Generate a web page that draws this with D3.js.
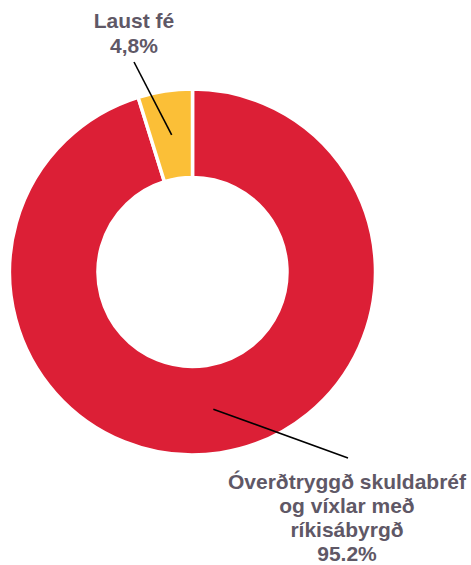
<!DOCTYPE html>
<html>
<head>
<meta charset="utf-8">
<script src="https://cdn.jsdelivr.net/npm/d3@7"></script>
<style>
  body { margin: 0; background: #fff; }
  svg { display: block; }
</style>
</head>
<body>
<div id="chart"></div>
<script>
// data
const categories = ["Óverðtryggð skuldabréf og víxlar með ríkisábyrgð", "Laust fé"];
const values = [95.2, 4.8];
const labelLines = [
  ["Óverðtryggð skuldabréf", "og víxlar með", "ríkisábyrgð", "95.2%"],
  ["Laust fé", "4,8%"]
];
const colors = ["#dc1f36", "#fbbf37"];

class Donut {
  constructor(config) {
    this.config = config;
    this.svg = d3.select(config.div).append("svg")
      .attr("width", config.width)
      .attr("height", config.height);
    this.g = this.svg.append("g")
      .attr("transform", `translate(${config.cx},${config.cy})`);
  }

  render() {
    const c = this.config;
    const data = categories.map((cat, i) => ({ cat, val: values[i], lines: labelLines[i], color: colors[i] }));

    const pie = d3.pie().sort(null).value(d => d.val);
    const arcs = pie(data);
    const arc = d3.arc().innerRadius(c.inner).outerRadius(c.outer);

    this.g.selectAll("path")
      .data(arcs)
      .enter()
      .append("path")
      .attr("d", arc)
      .attr("fill", d => d.data.color)
      .attr("stroke", "#fff")
      .attr("stroke-width", 3.5)
      .attr("stroke-linejoin", "miter");

    // leader lines from slice centroid to label anchor
    this.g.selectAll("line.leader")
      .data(arcs)
      .enter()
      .append("line")
      .attr("class", "leader")
      .attr("x1", d => arc.centroid(d)[0])
      .attr("y1", d => arc.centroid(d)[1])
      .attr("x2", (d, i) => c.lineEnd[i][0] - c.cx)
      .attr("y2", (d, i) => c.lineEnd[i][1] - c.cy)
      .attr("stroke", "#000")
      .attr("stroke-width", 1.6);

    // labels
    arcs.forEach((d, i) => {
      const t = this.svg.append("text")
        .attr("text-anchor", "middle")
        .attr("font-family", "Liberation Sans, Arial, sans-serif")
        .attr("font-weight", "bold")
        .attr("font-size", 21)
        .attr("fill", "#5f5866");
      d.data.lines.forEach((ln, j) => {
        t.append("tspan")
          .attr("x", c.labelPos[i][0])
          .attr("y", c.labelPos[i][1] + j * c.lineH[i])
          .text(ln);
      });
    });
  }
}

const cfg = {
  div: "#chart", width: 471, height: 565,
  cx: 192.5, cy: 272, outer: 183, inner: 94.5,
  lineEnd: [[348, 458], [134, 62]],
  labelPos: [[347, 489], [134, 28]],
  lineH: [24, 25]
};

const app = new Donut(cfg);
app.render();
</script>
</body>
</html>
